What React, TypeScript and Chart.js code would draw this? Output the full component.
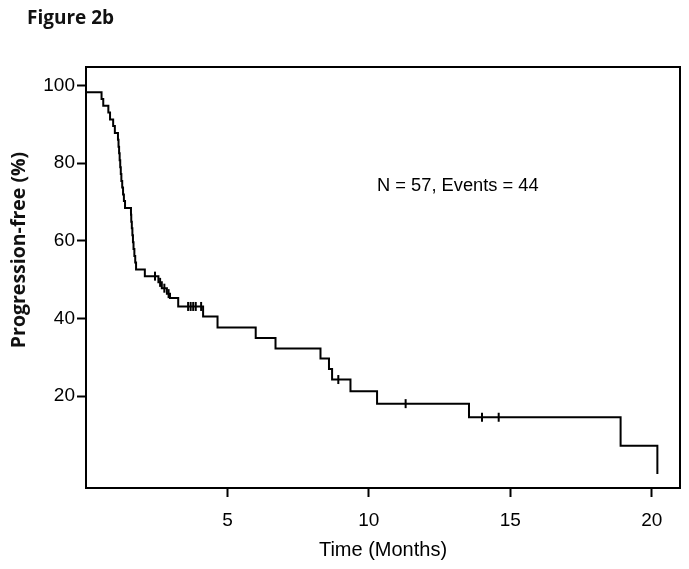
import React, { useEffect, useRef } from "react";
import { Chart, registerables } from "chart.js";

Chart.register(...registerables);

// Kaplan-Meier step curve: time of each drop (months) and survival after it (%)
const kmTimes = [
  0, 0.55, 0.61, 0.79, 0.85, 0.96, 1.02, 1.13, 1.15, 1.17, 1.19, 1.21, 1.23, 1.25,
  1.28, 1.31, 1.34, 1.38, 1.59, 1.6, 1.62, 1.64, 1.66, 1.68, 1.71, 1.74, 1.77, 2.08,
  2.56, 2.68, 2.86, 2.97, 3.26, 4.14, 4.65, 6.0, 6.7, 8.29, 8.59, 8.7, 9.35, 10.29,
  13.54, 18.9, 20.2,
];
const kmSurvival = [
  98.2, 96.5, 94.7, 93.0, 91.2, 89.5, 87.7, 86.0, 84.2, 82.5, 80.7, 78.9, 77.2, 75.4,
  73.7, 71.9, 70.2, 68.4, 66.7, 64.9, 63.2, 61.4, 59.6, 57.9, 56.1, 54.4, 52.6, 50.9,
  49.3, 47.8, 46.4, 45.3, 43.1, 40.5, 37.7, 35.0, 32.3, 29.7, 27.0, 24.3, 21.3, 18.1,
  14.6, 7.3, 0,
];
// Censored observations (months)
const censorTimes = [2.44, 2.62, 2.77, 2.92, 3.61, 3.7, 3.79, 3.88, 4.07, 8.92, 11.3, 14.0, 14.59];

const xTicks = [5, 10, 15, 20];
const yTicks = [20, 40, 60, 80, 100];

const figureLabel = "Figure 2b";
const xTitle = "Time (Months)";
const yTitle = "Progression-free (%)";
const annotation = "N = 57, Events = 44";
const annotationAt = { x: 10.29, y: 74.1 };

const SANS = "'Liberation Sans', Arial, sans-serif";
const BOLD = "'Open Sans', 'Noto Sans', sans-serif";

function survivalAt(t: number): number {
  let v = kmSurvival[0];
  for (let i = 0; i < kmTimes.length; i++) if (kmTimes[i] <= t) v = kmSurvival[i];
  return v;
}

export default function App() {
  const ref = useRef<HTMLCanvasElement | null>(null);

  useEffect(() => {
    if (!ref.current) return;
    const textPlugin = {
      id: "extraText",
      afterDraw(chart: any) {
        const { ctx, chartArea, scales } = chart;
        ctx.save();
        ctx.strokeStyle = "#000";
        ctx.lineWidth = 2;
        ctx.strokeRect(
          chartArea.left,
          chartArea.top,
          chartArea.right - chartArea.left,
          chartArea.bottom - chartArea.top
        );
        ctx.fillStyle = "#111";
        ctx.font = `bold 19px ${BOLD}`;
        ctx.textAlign = "left";
        ctx.textBaseline = "alphabetic";
        ctx.fillText(figureLabel, 27, 24);
        ctx.translate(19, 250);
        ctx.rotate(-Math.PI / 2);
        ctx.font = `bold 19.5px ${BOLD}`;
        ctx.textAlign = "center";
        ctx.textBaseline = "middle";
        ctx.fillText(yTitle, 0, 0);
        ctx.restore();

        ctx.save();
        ctx.fillStyle = "#000";
        ctx.font = `18.3px ${SANS}`;
        ctx.textAlign = "left";
        ctx.textBaseline = "middle";
        ctx.fillText(
          annotation,
          scales.x.getPixelForValue(annotationAt.x),
          scales.y.getPixelForValue(annotationAt.y)
        );
        ctx.restore();
      },
    };

    const chart = new Chart(ref.current, {
      type: "line",
      data: {
        datasets: [
          {
            data: kmTimes.map((t, i) => ({ x: t, y: kmSurvival[i] })),
            stepped: "before",
            borderColor: "#000",
            borderWidth: 2,
            pointRadius: 0,
            fill: false,
          },
          {
            data: censorTimes.map((t) => ({ x: t, y: survivalAt(t) })),
            showLine: false,
            pointStyle: "line",
            rotation: 90,
            pointRadius: 4.5,
            pointBorderWidth: 2,
            borderColor: "#000",
            pointBorderColor: "#000",
          },
        ],
      },
      options: {
        animation: false,
        responsive: false,
        devicePixelRatio: 1,
        layout: { padding: { top: 67, right: 9, left: 0, bottom: 0 } },
        plugins: { legend: { display: false }, tooltip: { enabled: false } },
        scales: {
          x: {
            type: "linear",
            min: 0,
            max: 21,
            afterBuildTicks: (s: any) => {
              s.ticks = xTicks.map((v) => ({ value: v }));
            },
            afterFit: (s: any) => {
              s.height = 81;
            },
            ticks: { font: { family: SANS, size: 19 }, color: "#000", padding: 12, maxRotation: 0 },
            grid: {
              drawOnChartArea: false,
              drawTicks: true,
              tickLength: 9,
              tickColor: "#000",
              tickWidth: 2,
            },
            border: { display: true, color: "#000", width: 2 },
            title: {
              display: true,
              text: xTitle,
              color: "#000",
              font: { family: SANS, size: 20 },
              padding: { top: 0, bottom: 7 },
            },
          },
          y: {
            type: "linear",
            min: -3.6,
            max: 104.7,
            afterBuildTicks: (s: any) => {
              s.ticks = yTicks.map((v) => ({ value: v }));
            },
            afterFit: (s: any) => {
              s.width = 86;
            },
            ticks: { font: { family: SANS, size: 19 }, color: "#000", padding: 2 },
            grid: {
              drawOnChartArea: false,
              drawTicks: true,
              tickLength: 9,
              tickColor: "#000",
              tickWidth: 2,
            },
            border: { display: true, color: "#000", width: 2 },
          },
        },
      },
      plugins: [textPlugin],
    } as any);
    return () => chart.destroy();
  }, []);

  return (
    <div style={{ position: "absolute", left: 0, top: 0, width: 689, height: 569, background: "#fff" }}>
      <canvas ref={ref} width={689} height={569} style={{ display: "block" }} />
    </div>
  );
}
